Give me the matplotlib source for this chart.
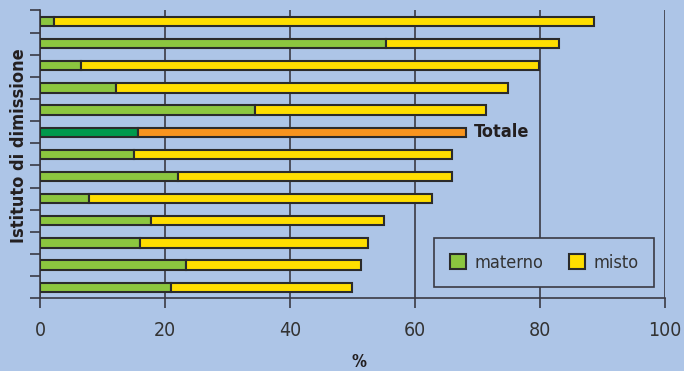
import matplotlib.pyplot as plt
from matplotlib.patches import Patch
import numpy as np

# quote allattamento per istituto (%)
materno = [2.2, 55.3, 6.5, 12.1, 34.4, 15.6, 15.0, 22.1, 7.8, 17.8, 15.9, 23.4, 21.0]
misto = [86.5, 27.8, 73.3, 62.8, 36.9, 52.5, 51.0, 43.9, 55.0, 37.3, 36.6, 28.0, 29.0]
totale_idx = 5
x_ticks = [0, 20, 40, 60, 80, 100]

bg = "#adc5e7"
edge = "#2b2b2b"
verde, giallo = "#8cc63f", "#ffde00"
verde_tot, arancio = "#00994c", "#f7941e"

plt.rcParams["font.family"] = ["DejaVu Sans"]
plt.rcParams["font.stretch"] = "condensed"

fig = plt.figure(figsize=(6.84, 3.71), dpi=100, facecolor=bg)
ax = fig.add_axes([0.0589, 0.196, 0.9129, 0.7757], facecolor=bg)

y = np.arange(len(materno))
c1 = [verde_tot if i == totale_idx else verde for i in y]
c2 = [arancio if i == totale_idx else giallo for i in y]
ax.barh(y, materno, height=0.42, color=c1, edgecolor=edge, linewidth=1.5, zorder=3)
ax.barh(y, misto, left=materno, height=0.42, color=c2, edgecolor=edge, linewidth=1.5, zorder=3)

tot = materno[totale_idx] + misto[totale_idx]
ax.text(tot + 1.4, totale_idx, "Totale", fontsize=13, fontweight="bold",
        color="#231f20", va="center", ha="left")

ax.set_xlim(0, 100)
ax.set_ylim(len(materno) - 0.5, -0.5)
ax.set_xticks(x_ticks)
ax.set_yticks(np.arange(-0.5, len(materno)))
ax.set_yticklabels([])
ax.grid(axis="x", color="#3a3a44", linewidth=1.2, zorder=1)

for s in ["top", "right"]:
    ax.spines[s].set_visible(False)
for s in ["left", "bottom"]:
    ax.spines[s].set_color("#3a3a44")
    ax.spines[s].set_linewidth(1.2)

ax.tick_params(axis="x", length=7, width=1.2, color="#3a3a44", pad=9,
               labelsize=14, labelcolor="#333333")
ax.tick_params(axis="y", length=7, width=1.2, color="#3a3a44")

ax.set_xlabel("%", fontsize=12, fontweight="bold", color="#231f20")
ax.xaxis.set_label_coords(0.51, -0.19)
ax.set_ylabel("Istituto di dimissione", fontsize=13, fontweight="bold",
              color="#231f20")
ax.yaxis.set_label_coords(-0.02, 0.53)

handles = [Patch(facecolor=verde, edgecolor=edge, linewidth=1.5, label="materno"),
           Patch(facecolor=giallo, edgecolor=edge, linewidth=1.5, label="misto")]
leg = ax.legend(handles=handles, ncol=2, loc="lower right",
                bbox_to_anchor=(0.983, 0.039), borderaxespad=0, frameon=True,
                fancybox=False, fontsize=13, handlelength=0.9, handleheight=0.9,
                columnspacing=1.4, handletextpad=0.48, borderpad=0.85,
                labelcolor="#333333")
leg.get_frame().set_facecolor(bg)
leg.get_frame().set_edgecolor("#3a3a44")
leg.get_frame().set_linewidth(1.2)
leg.get_frame().set_alpha(1)
leg.set_zorder(5)

fig.savefig("out.png", dpi=100, facecolor=bg)
